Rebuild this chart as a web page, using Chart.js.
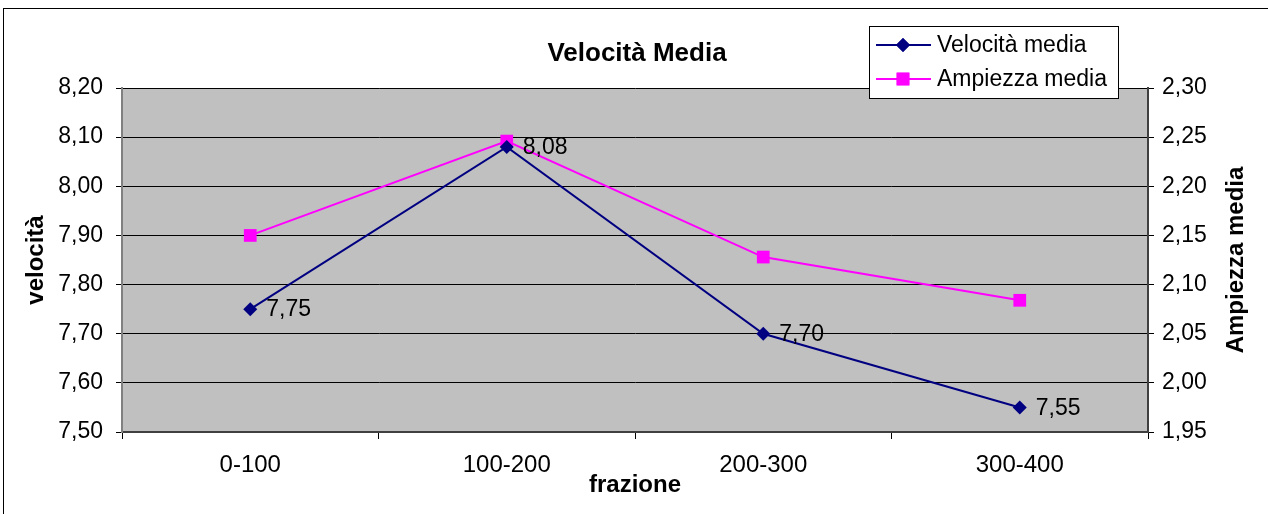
<!DOCTYPE html>
<html>
<head>
<meta charset="utf-8">
<script src="https://cdn.jsdelivr.net/npm/chart.js@4/dist/chart.umd.min.js"></script>
<style>
  html, body { margin: 0; padding: 0; background: #fff; }
  canvas { display: block; }
</style>
</head>
<body>
<canvas id="chart" width="1268" height="514"></canvas>
<script>
const categories = ['0-100', '100-200', '200-300', '300-400'];
const velocita = [7.75, 8.08, 7.70, 7.55];
const ampiezza = [2.15, 2.246, 2.128, 2.084];
const velocitaLabels = ['7,75', '8,08', '7,70', '7,55'];

const FONT = '"Liberation Sans", Arial, sans-serif';
const NAVY = '#000080';
const MAGENTA = '#FF00FF';

function comma(v) {
    return v.toFixed(2).replace('.', ',');
}

// grey plot area, outer frame, title, labels, legend
const decorations = {
    id: 'decorations',
    beforeDraw(chart) {
        const { ctx, chartArea: a } = chart;
        ctx.save();
        ctx.fillStyle = '#C0C0C0';
        ctx.fillRect(a.left, a.top, a.right - a.left, a.bottom - a.top);
        ctx.strokeStyle = '#000';
        ctx.lineWidth = 1;
        ctx.strokeRect(3.5, 8.5, 1400, 600);
        ctx.restore();
    },
    afterDatasetsDraw(chart) {
        const { ctx } = chart;
        const meta = chart.getDatasetMeta(0);
        ctx.save();
        ctx.fillStyle = '#000';
        ctx.font = '23px ' + FONT;
        ctx.textAlign = 'left';
        ctx.textBaseline = 'middle';
        meta.data.forEach((pt, i) => {
            ctx.fillText(velocitaLabels[i], pt.x + 16, pt.y + 1);
        });
        ctx.restore();
    },
    afterDraw(chart) {
        const { ctx, chartArea: a } = chart;
        ctx.save();
        // title
        ctx.fillStyle = '#000';
        ctx.font = 'bold 26px ' + FONT;
        ctx.textAlign = 'center';
        ctx.textBaseline = 'middle';
        ctx.fillText('Velocità Media', (a.left + a.right) / 2 + 2, 54);

        // right axis title, reading bottom to top
        ctx.font = 'bold 24px ' + FONT;
        ctx.translate(1236, (a.top + a.bottom) / 2);
        ctx.rotate(-Math.PI / 2);
        ctx.fillText('Ampiezza media', 0, 0);
        ctx.setTransform(1, 0, 0, 1, 0, 0);

        // legend
        ctx.fillStyle = '#fff';
        ctx.fillRect(869, 26, 249, 72);
        ctx.strokeStyle = '#000';
        ctx.lineWidth = 1;
        ctx.strokeRect(869.5, 26.5, 249, 72);
        const rows = [
            { y: 45, text: 'Velocità media', color: NAVY, style: 'rectRot', r: 7 },
            { y: 79, text: 'Ampiezza media', color: MAGENTA, style: 'rect', r: 9 }
        ];
        rows.forEach(row => {
            ctx.strokeStyle = row.color;
            ctx.lineWidth = 2;
            ctx.beginPath();
            ctx.moveTo(876, row.y);
            ctx.lineTo(931, row.y);
            ctx.stroke();
            ctx.fillStyle = row.color;
            Chart.helpers.drawPoint(ctx, { pointStyle: row.style, radius: row.r, borderWidth: 0 }, 903, row.y);
            ctx.fill();
            ctx.fillStyle = '#000';
            ctx.font = '23px ' + FONT;
            ctx.textAlign = 'left';
            ctx.textBaseline = 'middle';
            ctx.fillText(row.text, 937, row.y + 1);
        });
        ctx.restore();
    }
};

new Chart(document.getElementById('chart').getContext('2d'), {
    type: 'line',
    data: {
        labels: categories,
        datasets: [
            {
                label: 'Velocità media',
                data: velocita,
                yAxisID: 'y',
                borderColor: NAVY,
                backgroundColor: NAVY,
                borderWidth: 2,
                pointStyle: 'rectRot',
                pointRadius: 7,
                pointBorderWidth: 0,
                tension: 0,
                fill: false
            },
            {
                label: 'Ampiezza media',
                data: ampiezza,
                yAxisID: 'y1',
                borderColor: MAGENTA,
                backgroundColor: MAGENTA,
                borderWidth: 2,
                pointStyle: 'rect',
                pointRadius: 9,
                pointBorderWidth: 0,
                tension: 0,
                fill: false
            }
        ]
    },
    options: {
        responsive: false,
        animation: false,
        layout: { padding: { top: 88, left: 0, right: 0, bottom: 0 } },
        plugins: {
            legend: { display: false },
            title: { display: false },
            tooltip: { enabled: false }
        },
        scales: {
            x: {
                offset: true,
                afterFit(scale) { scale.height = 82; },
                grid: {
                    offset: true,
                    drawOnChartArea: false,
                    drawTicks: true,
                    tickLength: 7,
                    color: '#000'
                },
                border: { color: '#404040', width: 2 },
                ticks: {
                    color: '#000',
                    font: { family: FONT, size: 24 },
                    padding: 12,
                    maxRotation: 0
                },
                title: {
                    display: true,
                    text: 'frazione',
                    color: '#000',
                    font: { family: FONT, size: 24, weight: 'bold' },
                    padding: { top: 0, bottom: 14 }
                }
            },
            y: {
                position: 'left',
                min: 7.5,
                max: 8.2,
                afterFit(scale) { scale.width = 122; },
                grid: { color: '#000', tickLength: 6, lineWidth: 1 },
                border: { color: '#808080', width: 2 },
                ticks: {
                    stepSize: 0.1,
                    color: '#000',
                    font: { family: FONT, size: 23 },
                    padding: 13,
                    callback: v => comma(v)
                },
                title: {
                    display: true,
                    text: 'velocità',
                    color: '#000',
                    font: { family: FONT, size: 24, weight: 'bold' },
                    padding: { top: 22, bottom: 0 }
                }
            },
            y1: {
                position: 'right',
                min: 1.95,
                max: 2.3,
                afterFit(scale) { scale.width = 120; },
                grid: { drawOnChartArea: false, color: '#000', tickLength: 6 },
                border: { color: '#404040', width: 2 },
                ticks: {
                    stepSize: 0.05,
                    color: '#000',
                    font: { family: FONT, size: 23 },
                    padding: 8,
                    callback: v => comma(v)
                }
            }
        }
    },
    plugins: [decorations]
});
</script>
</body>
</html>
